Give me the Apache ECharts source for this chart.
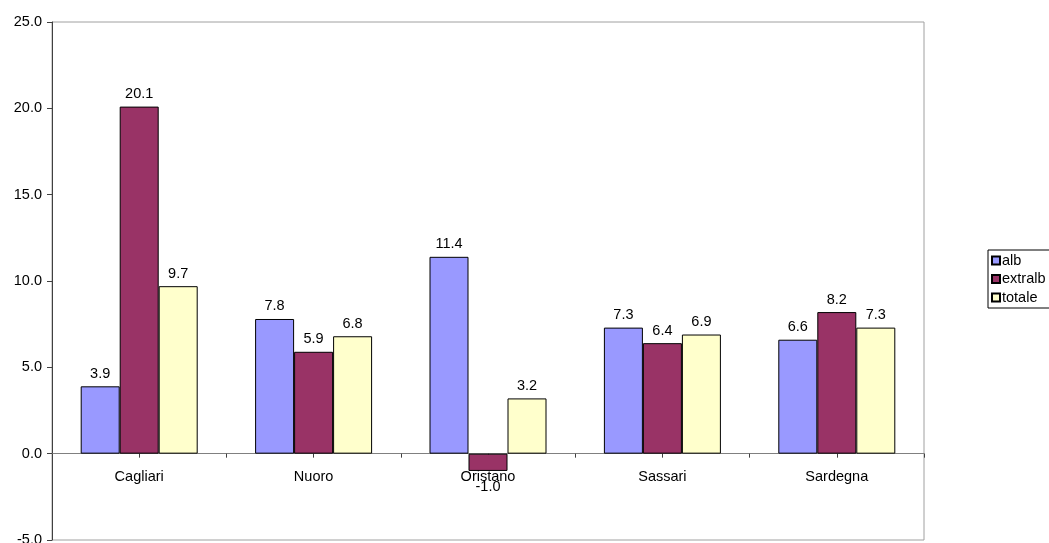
<!DOCTYPE html>
<html>
<head>
<meta charset="utf-8">
<script src="https://cdn.jsdelivr.net/npm/echarts@6/dist/echarts.min.js"></script>
<style>
  html, body { margin: 0; padding: 0; background: #ffffff; }
  #chart { width: 1049px; height: 543px; }
</style>
</head>
<body>
<div id="chart"></div>
<script>
// Province categories and series values
const categories = ['Cagliari', 'Nuoro', 'Oristano', 'Sassari', 'Sardegna'];
const alb = [3.9, 7.8, 11.4, 7.3, 6.6];
const extralb = [20.1, 5.9, -1.0, 6.4, 8.2];
const totale = [9.7, 6.8, 3.2, 6.9, 7.3];
const seriesNames = ['alb', 'extralb', 'totale'];
const yTicks = { min: -5, max: 25, interval: 5 };

const colors = ['#9999FF', '#993366', '#FFFFCC'];
const FONT = 'Liberation Sans, Arial, sans-serif';
const FS = 14.5;

const CHART_H = 543;
const GRID = { left: 52, right: 125, top: 22, bottom: 3 };
// distance from the grid bottom up to the value-0 line
const plotH = CHART_H - GRID.top - GRID.bottom;
const zeroOffset = plotH * (0 - yTicks.min) / (yTicks.max - yTicks.min);

// Labels sit above positive bars and below negative ones
function withLabels(values) {
  return values.map(v => ({
    value: v,
    label: v < 0 ? { position: 'bottom', distance: 9 } : { position: 'top' }
  }));
}

function barSeries(name, values, color) {
  return {
    name: name,
    type: 'bar',
    data: withLabels(values),
    barWidth: 39,
    barGap: '0%',
    itemStyle: { color: color, borderColor: '#000000', borderWidth: 1 },
    label: {
      show: true,
      formatter: p => p.value.toFixed(1),
      color: '#000000',
      fontFamily: FONT,
      fontSize: FS,
      distance: 5
    }
  };
}

const chart = echarts.init(document.getElementById('chart'), null, { renderer: 'canvas' });

chart.setOption({
  animation: false,
  backgroundColor: '#ffffff',
  grid: {
    left: GRID.left, right: GRID.right, top: GRID.top, bottom: GRID.bottom,
    outerBoundsMode: 'none',
    containLabel: false,
    show: true, borderColor: '#a0a0a0', borderWidth: 1
  },
  legend: {
    data: seriesNames,
    orient: 'vertical',
    left: 988, top: 250,
    itemWidth: 8, itemHeight: 8, itemGap: 3.5,
    icon: 'rect',
    padding: [3, 30, 3, 3],
    borderColor: '#000000', borderWidth: 1,
    textStyle: { fontFamily: FONT, fontSize: FS, color: '#000000', padding: [0, 0, 0, -3] }
  },
  xAxis: [
    {
      // zero line with ticks between categories
      type: 'category',
      data: categories,
      axisLine: { onZero: true, lineStyle: { color: '#808080', width: 1 } },
      axisTick: { show: true, length: 4, lineStyle: { color: '#404040' } },
      axisLabel: { show: false },
      splitLine: { show: false }
    },
    {
      // category names and centre ticks, lifted to the zero line
      type: 'category',
      data: categories,
      position: 'bottom',
      offset: -zeroOffset,
      axisLine: { show: false },
      axisTick: { show: true, alignWithLabel: true, length: 4, lineStyle: { color: '#404040' } },
      axisLabel: { color: '#000000', fontFamily: FONT, fontSize: FS, margin: 16 },
      splitLine: { show: false }
    }
  ],
  yAxis: {
    type: 'value',
    min: yTicks.min, max: yTicks.max, interval: yTicks.interval,
    axisLine: { show: true, lineStyle: { color: '#404040', width: 1 } },
    axisTick: { show: true, length: 5, lineStyle: { color: '#404040' } },
    axisLabel: {
      color: '#000000', fontFamily: FONT, fontSize: FS, margin: 10,
      formatter: v => v.toFixed(1)
    },
    splitLine: { show: false }
  },
  series: seriesNames.map((n, i) => barSeries(n, [alb, extralb, totale][i], colors[i]))
});
</script>
</body>
</html>
